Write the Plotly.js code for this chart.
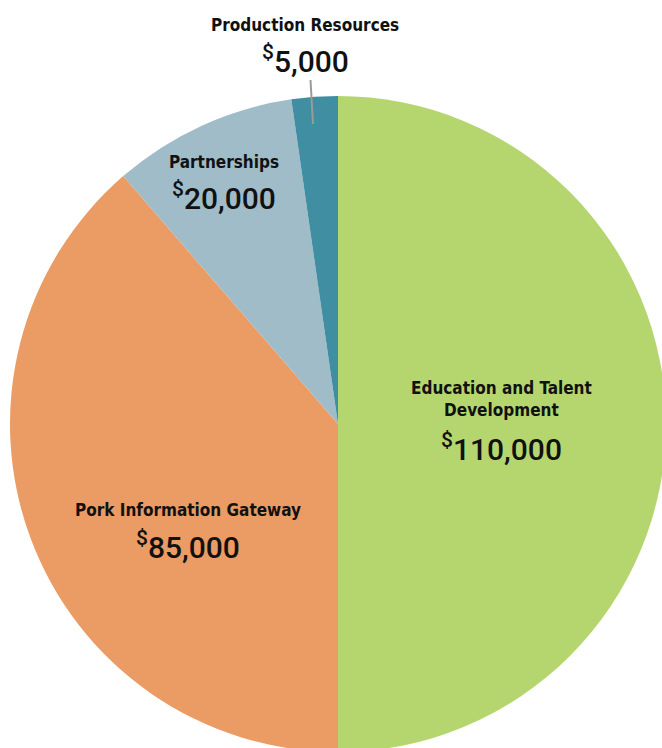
<!DOCTYPE html>
<html>
<head>
<meta charset="utf-8">
<script src="https://cdn.plot.ly/plotly-3.0.1.min.js"></script>
<style>
html,body{margin:0;padding:0;overflow:hidden;background:#fff;}
#chart{width:666px;height:752px;}
.annotation[data-index="0"] .annotation-text,
.annotation[data-index="1"] .annotation-text,
.annotation[data-index="2"] .annotation-text,
.annotation[data-index="3"] .annotation-text{font-stretch:condensed;}
</style>
</head>
<body>
<div id="chart"></div>
<script>
// Data
const labels = ['Education and Talent Development', 'Pork Information Gateway', 'Partnerships', 'Production Resources'];
const labelLines = ['Education and Talent<br>Development', 'Pork Information Gateway', 'Partnerships', 'Production Resources'];
const values = [110000, 85000, 20000, 5000];
const colors = ['#b5d66f', '#eb9b64', '#9fbcc8', '#3f8ea2'];

// Layout helpers (pixel -> paper)
const W = 666, H = 752, ML = 10, MT = 96;
const PW = W - ML, PH = H - MT;
const px = x => (x - ML) / PW;
const py = y => (H - y) / PH;

// label positions (layout only)
const labelPos = [
  {x: 501, y: 399, ay: 447},
  {x: 188, y: 510, ay: 545},
  {x: 224, y: 162, ay: 196},
  {x: 305, y: 25, ay: 60}
];

const labelFont = {family: '"DejaVu Sans Condensed", "DejaVu Sans", sans-serif', size: 17, color: '#111', weight: 'bold'};
const numFont = {family: 'Roboto, "Liberation Sans", Arial, sans-serif', size: 30, color: '#111', weight: 500};

const labelAnns = [];
const numAnns = [];
values.forEach((v, i) => {
  const p = labelPos[i];
  labelAnns.push({
    xref: 'paper', yref: 'paper', x: px(p.x), y: py(p.y),
    text: labelLines[i], showarrow: false,
    xanchor: 'center', yanchor: 'middle', font: labelFont, align: 'center'
  });
  numAnns.push({
    xref: 'paper', yref: 'paper', x: px(p.x), y: py(p.ay),
    text: '<sup>$</sup>' + v.toLocaleString('en-US'), showarrow: false,
    xanchor: 'center', yanchor: 'middle', font: numFont
  });
});

const data = [{
  type: 'pie',
  labels: labels,
  values: values,
  sort: false,
  direction: 'clockwise',
  rotation: 0,
  marker: {colors: colors, line: {width: 0}},
  textinfo: 'none',
  hoverinfo: 'label+value',
  showlegend: false
}];

const layout = {
  width: W, height: H,
  margin: {l: ML, r: 0, t: MT, b: 0, pad: 0},
  paper_bgcolor: '#fff',
  showlegend: false,
  annotations: labelAnns.concat(numAnns),
  shapes: [{
    type: 'line', xref: 'paper', yref: 'paper',
    x0: px(310.5), y0: py(80), x1: px(313), y1: py(124),
    line: {color: '#9a9a9a', width: 2}
  }]
};

Plotly.newPlot('chart', data, layout, {displayModeBar: false, staticPlot: true});
</script>
</body>
</html>
